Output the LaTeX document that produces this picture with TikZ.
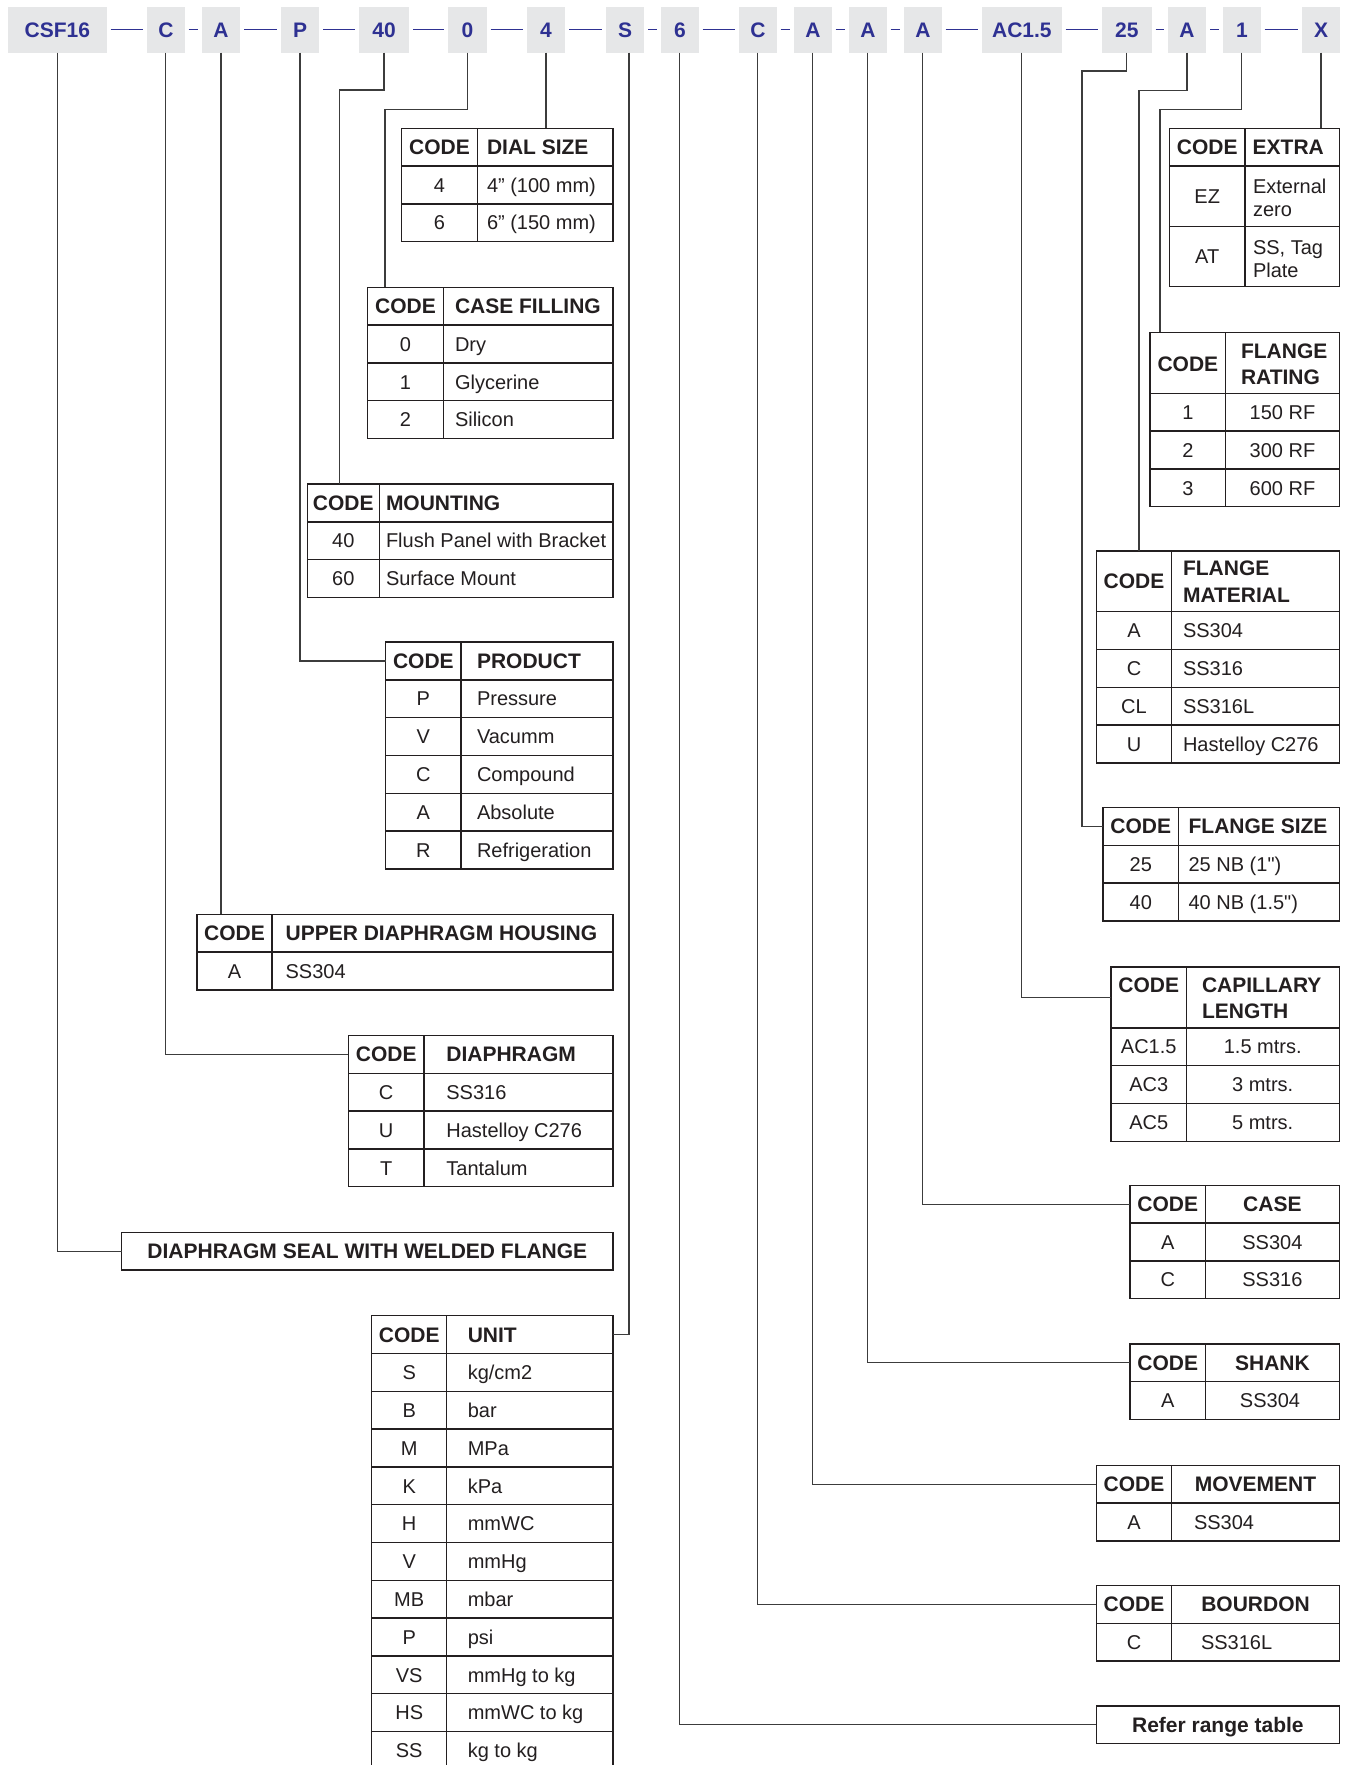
\documentclass[tikz,border=0pt]{standalone}
\usepackage{fontspec}
\newfontfamily\arial{Liberation Sans}
\definecolor{codeblue}{HTML}{2E3192}
\definecolor{boxgray}{HTML}{E6E7E8}
\definecolor{ink}{HTML}{231F20}
\definecolor{wire}{HTML}{3C3C3C}
\tikzset{
  topbox/.style={fill=boxgray, draw=none, inner sep=0, outer sep=0, minimum height=23pt,
    text height=7.5pt, text depth=0pt, text=codeblue, font=\arial\bfseries\fontsize{10.5}{12}\selectfont},
  dashln/.style={draw=codeblue, line width=0.6pt},
  frame/.style={draw=ink, line width=0.7pt, inner sep=0, outer sep=0, anchor=north west},
  tline/.style={draw=ink, line width=0.7pt},
  conn/.style={draw=wire, line width=0.6pt},
  tx/.style={inner sep=0, outer sep=0, text height=7.2pt, text depth=0pt, text=ink,
    font=\arial\fontsize{10}{12}\selectfont},
  hd/.style={tx, text height=7.5pt, font=\arial\bfseries\fontsize{10.5}{12}\selectfont},
}
\newcommand\tabframe[7]{%
  \node[frame, minimum width={(#4-#2)*0.5pt}, minimum height={(#7-#5)*0.5pt}] (#1) at (#2,#5) {};
  \node[frame, minimum width={(#4-#2)*0.5pt}, minimum height={(#6-#5)*0.5pt}] (#1-head) at (#2,#5) {};
  \draw[tline] (#3,#5) -- (#3,#7);}
\newcommand\hlines[3]{\foreach \yy in {#3} {\draw[tline] (#1,\yy) -- (#2,\yy);}}
\newcommand\crow[6]{\node[tx] (#1c) at (#2,#3) {#4};\node[tx,anchor=west] (#1d) at (#5,#3) {#6};}
\newcommand\crowc[6]{\node[tx] (#1c) at (#2,#3) {#4};\node[tx] (#1d) at (#5,#3) {#6};}
\begin{document}
\begin{tikzpicture}[x=0.5pt,y=-0.5pt]
\path[use as bounding box] (0,0) rectangle (1346,1765);
\clip (0,0) rectangle (1346,1765);
\fill[white] (0,0) rectangle (1346,1765);

% ---------- top code bar ----------
\node[topbox, minimum width=49.35pt] (t1) at (57.35,29.7) {CSF16};
\node[topbox, minimum width=18.85pt] (t2) at (165.85,29.7) {C};
\node[topbox, minimum width=19pt] (t3) at (221,29.7) {A};
\node[topbox, minimum width=19pt] (t4) at (300,29.7) {P};
\node[topbox, minimum width=25pt] (t5) at (384,29.7) {40};
\node[topbox, minimum width=19.35pt] (t6) at (467.35,29.7) {0};
\node[topbox, minimum width=19pt] (t7) at (546,29.7) {4};
\node[topbox, minimum width=19pt] (t8) at (625,29.7) {S};
\node[topbox, minimum width=18.85pt] (t9) at (679.85,29.7) {6};
\node[topbox, minimum width=18.85pt] (t10) at (757.85,29.7) {C};
\node[topbox, minimum width=18.85pt] (t11) at (812.85,29.7) {A};
\node[topbox, minimum width=18.85pt] (t12) at (867.85,29.7) {A};
\node[topbox, minimum width=18.85pt] (t13) at (922.85,29.7) {A};
\node[topbox, minimum width=39.85pt] (t14) at (1021.85,29.7) {AC1.5};
\node[topbox, minimum width=24.85pt] (t15) at (1126.85,29.7) {25};
\node[topbox, minimum width=19pt] (t16) at (1187,29.7) {A};
\node[topbox, minimum width=18.85pt] (t17) at (1241.85,29.7) {1};
\node[topbox, minimum width=19pt] (t18) at (1321,29.7) {X};
\foreach \a/\b in {t1/t2,t2/t3,t3/t4,t4/t5,t5/t6,t6/t7,t7/t8,t8/t9,t9/t10,t10/t11,t11/t12,t12/t13,t13/t14,t14/t15,t15/t16,t16/t17,t17/t18}
  {\draw[dashln] ([xshift=2pt]\a.east) -- ([xshift=-2pt]\b.west);}

% ---------- left column tables ----------
% DIAL SIZE
\tabframe{dial}{401.7}{477.3}{613}{128.3}{166.1}{241.7}
\hlines{401.7}{613}{203.9}
\node[hd] (dial-code) at (439.5,147.2) {CODE};
\node[hd,anchor=west] (dial-title) at (487,147.2) {DIAL SIZE};
\crow{dial1}{439.5}{185}{4}{487}{4” (100 mm)}
\crow{dial2}{439.5}{222.8}{6}{487}{6” (150 mm)}

% CASE FILLING
\tabframe{cf}{367.7}{443.3}{613}{287.3}{325.1}{438.5}
\hlines{367.7}{613}{362.9,400.7}
\node[hd] (cf-code) at (405.5,306.2) {CODE};
\node[hd,anchor=west] (cf-title) at (455,306.2) {CASE FILLING};
\crow{cf1}{405.5}{344}{0}{455}{Dry}
\crow{cf2}{405.5}{381.8}{1}{455}{Glycerine}
\crow{cf3}{405.5}{419.6}{2}{455}{Silicon}

% MOUNTING
\tabframe{mnt}{307.3}{379.3}{613}{484}{521.8}{597.4}
\hlines{307.3}{613}{559.6}
\node[hd] (mnt-code) at (343.3,502.9) {CODE};
\node[hd,anchor=west] (mnt-title) at (386,502.9) {MOUNTING};
\crow{mnt1}{343.3}{540.7}{40}{386}{Flush Panel with Bracket}
\crow{mnt2}{343.3}{578.5}{60}{386}{Surface Mount}

% PRODUCT
\tabframe{prod}{385.7}{461}{613}{642}{679.8}{868.8}
\hlines{385.7}{613}{717.6,755.4,793.2,831}
\node[hd] (prod-code) at (423.4,660.9) {CODE};
\node[hd,anchor=west] (prod-title) at (477,660.9) {PRODUCT};
\crow{prod1}{423.4}{698.7}{P}{477}{Pressure}
\crow{prod2}{423.4}{736.5}{V}{477}{Vacumm}
\crow{prod3}{423.4}{774.3}{C}{477}{Compound}
\crow{prod4}{423.4}{812.1}{A}{477}{Absolute}
\crow{prod5}{423.4}{849.9}{R}{477}{Refrigeration}

% UPPER DIAPHRAGM HOUSING
\tabframe{uph}{196.8}{272.1}{613}{914.2}{952}{989.8}
\node[hd] (uph-code) at (234.5,933.1) {CODE};
\node[hd,anchor=west] (uph-title) at (285.6,933.1) {UPPER DIAPHRAGM HOUSING};
\crow{uph1}{234.5}{970.9}{A}{285.6}{SS304}

% DIAPHRAGM
\tabframe{dia}{348.3}{424}{613}{1035.5}{1073.3}{1186.7}
\hlines{348.3}{613}{1111.1,1148.9}
\node[hd] (dia-code) at (386.2,1054.4) {CODE};
\node[hd,anchor=west] (dia-title) at (446.4,1054.4) {DIAPHRAGM};
\crow{dia1}{386.2}{1092.2}{C}{446.4}{SS316}
\crow{dia2}{386.2}{1130}{U}{446.4}{Hastelloy C276}
\crow{dia3}{386.2}{1167.8}{T}{446.4}{Tantalum}

% SEAL
\node[frame, hd, minimum width=245.65pt, minimum height=18.85pt] (seal) at (121.7,1232.3) {DIAPHRAGM SEAL WITH WELDED FLANGE};

% UNIT
\tabframe{unit}{371.7}{446.7}{613}{1315.7}{1353.5}{1769.3}
\hlines{371.7}{613}{1391.3,1429.1,1466.9,1504.7,1542.5,1580.3,1618.1,1655.9,1693.7,1731.5}
\node[hd] (unit-code) at (409.2,1334.6) {CODE};
\node[hd,anchor=west] (unit-title) at (467.8,1334.6) {UNIT};
\crow{unit1}{409.2}{1372.4}{S}{467.8}{kg/cm2}
\crow{unit2}{409.2}{1410.2}{B}{467.8}{bar}
\crow{unit3}{409.2}{1448}{M}{467.8}{MPa}
\crow{unit4}{409.2}{1485.8}{K}{467.8}{kPa}
\crow{unit5}{409.2}{1523.6}{H}{467.8}{mmWC}
\crow{unit6}{409.2}{1561.4}{V}{467.8}{mmHg}
\crow{unit7}{409.2}{1599.2}{MB}{467.8}{mbar}
\crow{unit8}{409.2}{1637}{P}{467.8}{psi}
\crow{unit9}{409.2}{1674.8}{VS}{467.8}{mmHg to kg}
\crow{unit10}{409.2}{1712.6}{HS}{467.8}{mmWC to kg}
\crow{unit11}{409.2}{1750.4}{SS}{467.8}{kg to kg}

% ---------- right column tables ----------
% EXTRA
\tabframe{ext}{1169.3}{1245}{1339.3}{128.3}{166}{286.7}
\hlines{1169.3}{1339.3}{226.7}
\node[hd] (ext-code) at (1207.2,147.15) {CODE};
\node[hd,anchor=west] (ext-title) at (1252.7,147.15) {EXTRA};
\node[tx] (ext1c) at (1207.2,196.4) {EZ};
\node[tx,anchor=west] (ext1d) at (1253,186.5) {External};
\node[tx,anchor=west] (ext1e) at (1253,209.2) {zero};
\node[tx] (ext2c) at (1207.2,256.7) {AT};
\node[tx,anchor=west] (ext2d) at (1253,247.8) {SS, Tag};
\node[tx,anchor=west] (ext2e) at (1253,270) {Plate};

% FLANGE RATING
\tabframe{frat}{1150}{1225.7}{1339.3}{332.3}{393.3}{506.7}
\hlines{1150}{1339.3}{431.1,468.9}
\node[hd] (frat-code) at (1187.9,364) {CODE};
\node[hd,anchor=west] (frat-title) at (1241,350.8) {FLANGE};
\node[hd,anchor=west] (frat-title2) at (1241,377.5) {RATING};
\crowc{frat1}{1187.9}{412.2}{1}{1282.5}{150 RF}
\crowc{frat2}{1187.9}{450}{2}{1282.5}{300 RF}
\crowc{frat3}{1187.9}{487.8}{3}{1282.5}{600 RF}

% FLANGE MATERIAL
\tabframe{fmat}{1096.4}{1171.7}{1339.3}{551}{611.7}{762.9}
\hlines{1096.4}{1339.3}{649.5,687.3,725.1}
\node[hd] (fmat-code) at (1134,581.4) {CODE};
\node[hd,anchor=west] (fmat-title) at (1183,568.3) {FLANGE};
\node[hd,anchor=west] (fmat-title2) at (1183,594.6) {MATERIAL};
\crow{fmat1}{1134}{630.6}{A}{1183}{SS304}
\crow{fmat2}{1134}{668.4}{C}{1183}{SS316}
\crow{fmat3}{1134}{706.2}{CL}{1183}{SS316L}
\crow{fmat4}{1134}{744}{U}{1183}{Hastelloy C276}

% FLANGE SIZE
\tabframe{fsz}{1103.1}{1178.5}{1339.3}{807.4}{845.2}{920.8}
\hlines{1103.1}{1339.3}{883}
\node[hd] (fsz-code) at (1140.8,826.3) {CODE};
\node[hd,anchor=west] (fsz-title) at (1188.6,826.3) {FLANGE SIZE};
\crow{fsz1}{1140.8}{864.1}{25}{1188.6}{25 NB (1")}
\crow{fsz2}{1140.8}{901.9}{40}{1188.6}{40 NB (1.5")}

% CAPILLARY LENGTH
\tabframe{cap}{1111}{1186.3}{1339.3}{967}{1027.8}{1141.2}
\hlines{1111}{1339.3}{1065.6,1103.4}
\node[hd] (cap-code) at (1148.7,985) {CODE};
\node[hd,anchor=west] (cap-title) at (1202,985) {CAPILLARY};
\node[hd,anchor=west] (cap-title2) at (1202,1011) {LENGTH};
\crowc{cap1}{1148.7}{1046.7}{AC1.5}{1262.7}{1.5 mtrs.}
\crowc{cap2}{1148.7}{1084.5}{AC3}{1262.7}{3 mtrs.}
\crowc{cap3}{1148.7}{1122.3}{AC5}{1262.7}{5 mtrs.}

% CASE
\tabframe{case}{1130.1}{1205.5}{1339.3}{1185.2}{1223}{1298.6}
\hlines{1130.1}{1339.3}{1260.8}
\node[hd] (case-code) at (1167.8,1204.1) {CODE};
\node[hd] (case-title) at (1272.4,1204.1) {CASE};
\crowc{case1}{1167.8}{1241.9}{A}{1272.4}{SS304}
\crowc{case2}{1167.8}{1279.7}{C}{1272.4}{SS316}

% SHANK
\tabframe{shk}{1130.1}{1205.5}{1339.3}{1343.8}{1381.6}{1419.4}
\node[hd] (shk-code) at (1167.8,1362.7) {CODE};
\node[hd] (shk-title) at (1272.4,1362.7) {SHANK};
\crowc{shk1}{1167.8}{1400.5}{A}{1270}{SS304}

% MOVEMENT
\tabframe{mov}{1096.4}{1171.7}{1339.3}{1465.2}{1503}{1540.8}
\node[hd] (mov-code) at (1134,1484.1) {CODE};
\node[hd] (mov-title) at (1255.5,1484.1) {MOVEMENT};
\crow{mov1}{1134}{1521.9}{A}{1194}{SS304}

% BOURDON
\tabframe{bou}{1096.4}{1171.7}{1339.3}{1585.5}{1623.3}{1661.1}
\node[hd] (bou-code) at (1134,1604.4) {CODE};
\node[hd] (bou-title) at (1255.5,1604.4) {BOURDON};
\crow{bou1}{1134}{1642.2}{C}{1201}{SS316L}

% REFER
\node[frame, hd, minimum width=121.45pt, minimum height=18.7pt] (ref) at (1096.4,1705.9) {Refer range table};

% ---------- connectors ----------
\draw[conn] (t1.south) |- (seal.west);
\draw[conn] (t2.south) |- (dia-head.west);
\draw[conn] (t3.south) -- (t3.south |- uph.north);
\draw[conn] (t4.south) |- (prod-head.west);
\draw[conn] (t5.south) |- (339.3,90) -- (339.3,90 |- mnt.north);
\draw[conn] (t6.south) |- (385,109.3) -- (385,109.3 |- cf.north);
\draw[conn] (t7.south) -- (t7.south |- dial.north);
\draw[conn] ([xshift=2pt]t8.south) |- (unit-head.east);
\draw[conn] (t9.south) |- (ref.west);
\draw[conn] (t10.south) |- (bou-head.west);
\draw[conn] (t11.south) |- (mov-head.west);
\draw[conn] (t12.south) |- (shk-head.west);
\draw[conn] (t13.south) |- (case-head.west);
\draw[conn] (t14.south) |- (cap-head.west);
\draw[conn] (t15.south) |- (1082,71) |- (fsz-head.west);
\draw[conn] (t16.south) |- (1139,90.3) -- (1139,90.3 |- fmat.north);
\draw[conn] (t17.south) |- (1160,109.3) -- (1160,109.3 |- frat.north);
\draw[conn] (t18.south) -- (t18.south |- ext.north);
\end{tikzpicture}
\end{document}
